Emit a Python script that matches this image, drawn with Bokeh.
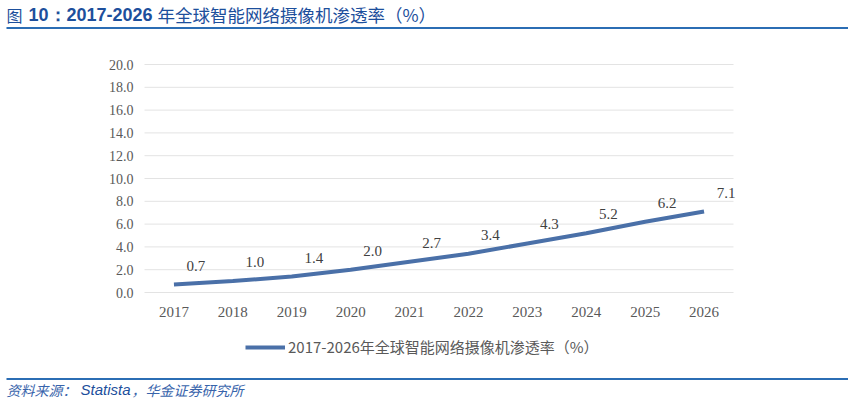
from bokeh.plotting import figure
from bokeh.models import (Range1d, Legend, LegendItem, FixedTicker, NumeralTickFormatter,
                          BasicTickFormatter, Label, BoxAnnotation)
from bokeh.core.properties import value
from bokeh.embed import file_html
from bokeh.resources import INLINE

# ---- data ----
years = [2017, 2018, 2019, 2020, 2021, 2022, 2023, 2024, 2025, 2026]
penetration = [0.7, 1.0, 1.4, 2.0, 2.7, 3.4, 4.3, 5.2, 6.2, 7.1]
value_labels = ["0.7", "1.0", "1.4", "2.0", "2.7", "3.4", "4.3", "5.2", "6.2", "7.1"]
y_ticks = [0, 2, 4, 6, 8, 10, 12, 14, 16, 18, 20]
series_name = "2017-2026年全球智能网络摄像机渗透率（%）"
title_parts = ["图", "10：", "2017-2026", "年全球智能网络摄像机渗透率（%）"]
footer_parts = ["资料来源：", "Statista", "，华金证券研究所"]

# ---- canvas geometry (pixels) ----
W, H = 848, 400
PL, PR = 144, 733        # plot area left / right
PT, PB = 64, 292         # plot area top (y=20) / bottom (y=0)
BLUE_TITLE = "#1d4f9c"
RULE = "#2b6db4"
SERIES = "#4a70a8"
CJK = "Noto Sans CJK SC"

x_lo, x_hi = years[0] - 0.5, years[-1] + 0.5
y_lo, y_hi = y_ticks[0], y_ticks[-1]
xs = (PR - PL) / (x_hi - x_lo)
ys = (PB - PT) / (y_hi - y_lo)
x_range = Range1d(x_lo - PL / xs, x_hi + (W - PR) / xs)
y_range = Range1d(y_lo - (H - PB) / ys, y_hi + PT / ys)

p = figure(width=W, height=H, x_range=x_range, y_range=y_range,
           output_backend="svg", toolbar_location=None,
           min_border=0, min_border_left=0, min_border_right=0,
           min_border_top=0, min_border_bottom=0)
p.outline_line_color = None
p.background_fill_color = "white"
p.border_fill_color = "white"
p.grid.visible = False

# gridlines at the y ticks across the plot area
p.segment(x0=[x_lo] * len(y_ticks), x1=[x_hi] * len(y_ticks), y0=y_ticks, y1=y_ticks,
          line_color="#e3e3e3", line_width=1)

xa, ya = p.xaxis[0], p.yaxis[0]
xa.fixed_location = y_lo
ya.fixed_location = x_lo
xa.ticker = FixedTicker(ticks=years)
xa.formatter = BasicTickFormatter(use_scientific=False)
ya.ticker = FixedTicker(ticks=y_ticks)
ya.formatter = NumeralTickFormatter(format="0.0")
for ax in (xa, ya):
    ax.axis_line_color = None
    ax.major_tick_line_color = None
    ax.minor_tick_line_color = None
    ax.major_label_text_font = "Liberation Serif"
    ax.major_label_text_color = "#595959"
ya.major_label_text_font_size = "14px"
ya.major_label_standoff = 5
xa.major_label_text_font_size = "15px"
xa.major_label_standoff = 8

line = p.line(x=years, y=penetration, line_color=SERIES, line_width=4)
p.text(x=years, y=penetration, text=value_labels, x_offset=22, y_offset=-19,
       text_font=value("Liberation Serif"), text_font_size="15px", text_color="#404040",
       text_align="center", text_baseline="middle")

legend = Legend(items=[LegendItem(label=series_name, renderers=[line])],
                location=(245, 43), orientation="horizontal",
                glyph_width=40, glyph_height=20, label_standoff=3,
                label_text_font=CJK, label_text_font_size="15px", label_text_color="#595959",
                padding=0, margin=0, border_line_alpha=0, background_fill_alpha=0)
p.add_layout(legend, "center")


def add_label(x, y_top, text, font, size, color, style="normal"):
    p.add_layout(Label(x=x, y=H - y_top, x_units="screen", y_units="screen", text=text,
                       text_font=font, text_font_size=size, text_color=color,
                       text_font_style=style, text_baseline="middle", text_align="left"))


# title
add_label(6, 14, title_parts[0], CJK, "16px", BLUE_TITLE)
add_label(28, 14, title_parts[1], "Liberation Sans", "18px", BLUE_TITLE, "bold")
add_label(66, 14, title_parts[2], "Liberation Sans", "18px", BLUE_TITLE, "bold")
add_label(157, 14, title_parts[3], CJK, "17.5px", BLUE_TITLE)
# footer
add_label(6, 389, footer_parts[0], CJK, "14px", "#3864ab", "italic")
add_label(80, 389, footer_parts[1], "Liberation Sans", "15px", BLUE_TITLE, "italic")
add_label(131, 389, footer_parts[2], CJK, "14px", "#3864ab", "italic")

# horizontal rules
for ry in (27.5, 378.5):
    p.add_layout(BoxAnnotation(left=6, right=W, top=H - ry + 1, bottom=H - ry - 1,
                               left_units="screen", right_units="screen",
                               top_units="screen", bottom_units="screen",
                               fill_color=RULE, fill_alpha=1, line_color=None))

open("out.html", "w").write(file_html(p, INLINE))
